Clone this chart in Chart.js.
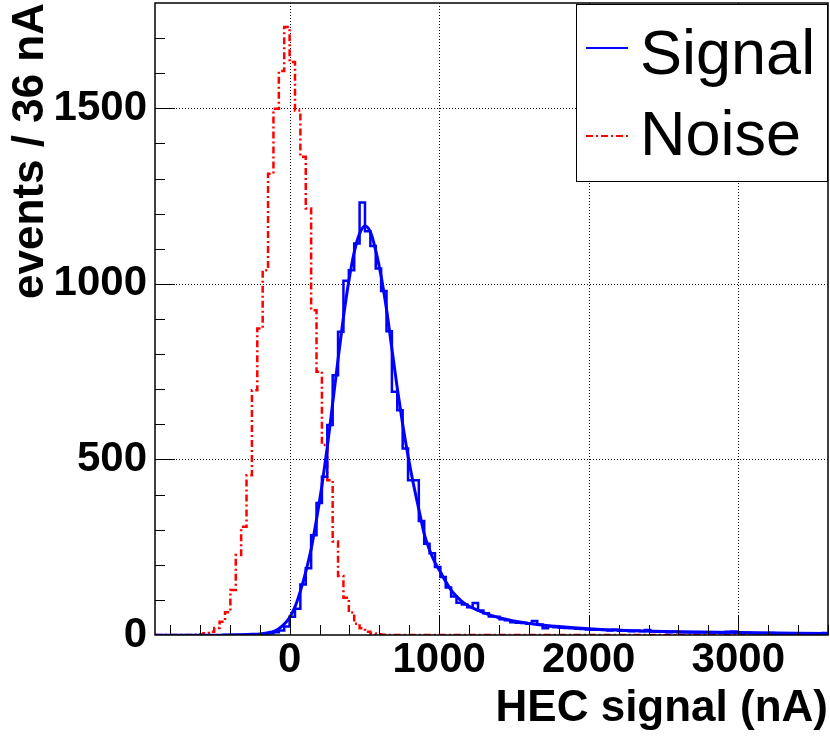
<!DOCTYPE html>
<html>
<head>
<meta charset="utf-8">
<title>HEC signal</title>
<script src="https://cdn.jsdelivr.net/npm/chart.js@4.4.1/dist/chart.umd.min.js"></script>
<style>
  html, body { margin: 0; padding: 0; background: #fff; }
  #wrap { width: 830px; height: 740px; }
</style>
</head>
<body>
<div id="wrap"><canvas id="hec" width="830" height="740"></canvas></div>
<script>
// both histograms use 36 nA bins starting at -900 nA (125 bins up to 3600)
const binStart = -900;
const binWidth = 36;

const signalCounts = [
  0, 0, 0, 0, 0, 0, 0, 0, 0, 0,
  0, 0, 0, 0, 0, 0, 0, 1, 1, 2,
  3, 5, 8, 13, 24, 52, 75, 144, 190, 284,
  376, 451, 598, 740, 864, 1009, 1039, 1115, 1232, 1150,
  1108, 1044, 980, 865, 693, 640, 531, 441, 441, 325,
  260, 233, 194, 165, 135, 110, 92, 87, 79, 91,
  70, 62, 53, 52, 45, 42, 36, 35, 34, 32,
  40, 30, 19, 24, 22, 21, 20, 19, 18, 17,
  16, 15, 15, 14, 13, 15, 12, 12, 11, 12,
  11, 14, 10, 9, 9, 8, 9, 8, 8, 7,
  7, 7, 8, 7, 7, 6, 9, 10, 8, 6,
  6, 5, 5, 5, 6, 4, 4, 5, 4, 4,
  5, 4, 4, 5, 6
];

const noiseCounts = [
  0, 0, 0, 0, 0, 0, 0, 1, 2, 5,
  9, 20, 38, 65, 128, 228, 308, 455, 697, 873,
  1039, 1314, 1499, 1606, 1732, 1632, 1494, 1362, 1215, 925,
  750, 541, 441, 266, 168, 106, 64, 32, 19, 9,
  4, 2, 1, 0, 0, 0, 0, 0, 0, 0,
  0, 0, 0, 0, 0, 0, 0, 0, 0, 0,
  0, 0, 0, 0, 0, 0, 0, 0, 0, 0,
  0, 0, 0, 0, 0, 0, 0, 0, 0, 0,
  0, 0, 0, 0, 0, 0, 0, 0, 0, 0,
  0, 0, 0, 0, 0, 0, 0, 0, 0, 0,
  0, 0, 0, 0, 0, 0, 0, 0, 0, 0,
  0, 0, 0, 0, 0, 0, 0, 0, 0, 0,
  0, 0, 0, 0, 0
];

// fitted curve on the signal
const fitX = [
  -450, -350, -250, -200, -150, -100, -50,
  0, 36, 72, 108, 144, 180, 216, 252, 288, 324,
  360, 396, 432, 468, 504, 540, 576, 612, 648, 684,
  720, 756, 792, 828, 864, 900, 936, 972, 1008, 1044,
  1080, 1116, 1152, 1188, 1224, 1260, 1300,
  1400, 1500, 1600, 1700, 1800, 2000, 2250, 2500, 3000, 3600
];
const fitY = [
  0, 0.5, 2, 3, 6, 11, 25,
  50, 80, 125, 180, 245, 330, 425, 535, 660, 785,
  905, 1008, 1090, 1143, 1165, 1148, 1095, 1022, 928, 815,
  703, 600, 510, 430, 358, 288, 242, 206, 180, 152,
  128, 110, 96, 85, 77, 70, 63,
  49, 40, 33, 28, 24, 18, 13, 10, 7, 4
];

const xMajorTicks = [0, 1000, 2000, 3000];
const yMajorTicks = [0, 500, 1000, 1500];
const xMinorStep = 200;
const yMinorStep = 100;

const tickFont = { family: "'Liberation Sans', Arial, sans-serif", size: 42, weight: "bold" };
const titleFont = { family: "'Liberation Sans', Arial, sans-serif", size: 44, weight: "bold" };

// one point per bin low edge plus the closing edge; drawn with stepped "before"
// so each count is held across its own bin
const toSteps = (counts) => {
  const pts = counts.map((c, i) => ({ x: binStart + i * binWidth, y: c }));
  pts.push({ x: binStart + counts.length * binWidth, y: counts[counts.length - 1] });
  return pts;
};

// ROOT-like frame: dotted grid, inward ticks, box and legend
const rootFrame = {
  id: "rootFrame",
  beforeDatasetsDraw(chart) {
    const { ctx, chartArea: a, scales: { x, y } } = chart;
    ctx.save();
    ctx.strokeStyle = "#000";
    ctx.lineWidth = 1;
    ctx.setLineDash([1, 2]);
    ctx.beginPath();
    xMajorTicks.forEach((v) => {
      const px = Math.round(x.getPixelForValue(v)) + 0.5;
      ctx.moveTo(px, a.top);
      ctx.lineTo(px, a.bottom);
    });
    yMajorTicks.forEach((v) => {
      if (v === 0) return;
      const py = Math.round(y.getPixelForValue(v)) + 0.5;
      ctx.moveTo(a.left, py);
      ctx.lineTo(a.right, py);
    });
    ctx.stroke();
    ctx.restore();
  },
  afterDatasetsDraw(chart) {
    const { ctx, chartArea: a, scales: { x, y } } = chart;
    ctx.save();
    ctx.strokeStyle = "#000";
    ctx.lineWidth = 1;
    ctx.beginPath();
    for (let v = Math.ceil(x.min / xMinorStep) * xMinorStep; v <= x.max; v += xMinorStep) {
      const px = Math.round(x.getPixelForValue(v)) + 0.5;
      const len = xMajorTicks.includes(v) ? 20 : 10;
      ctx.moveTo(px, a.bottom);
      ctx.lineTo(px, a.bottom - len);
    }
    for (let v = yMinorStep; v < y.max; v += yMinorStep) {
      const py = Math.round(y.getPixelForValue(v)) + 0.5;
      const len = yMajorTicks.includes(v) ? 20 : 10;
      ctx.moveTo(a.left, py);
      ctx.lineTo(a.left + len, py);
    }
    ctx.stroke();
    ctx.lineWidth = 1.5;
    ctx.strokeRect(a.left, a.top, a.right - a.left, a.bottom - a.top);
    ctx.restore();
  },
  afterDraw(chart) {
    const { ctx, chartArea: a } = chart;
    const sets = chart.data.datasets;
    const box = { left: 576, top: a.top + 1, right: a.right, bottom: 182 };
    ctx.save();
    ctx.fillStyle = "#fff";
    ctx.fillRect(box.left, box.top, box.right - box.left, box.bottom - box.top);
    ctx.strokeStyle = "#000";
    ctx.lineWidth = 1;
    ctx.strokeRect(box.left + 0.5, box.top + 0.5, box.right - box.left - 1, box.bottom - box.top - 1);

    const entries = [
      { ds: sets[0], y: 48, base: 74 },
      { ds: sets[2], y: 136, base: 155 },
    ];
    ctx.font = "63px 'Liberation Sans', Arial, sans-serif";
    ctx.textBaseline = "alphabetic";
    ctx.textAlign = "left";
    entries.forEach((e) => {
      ctx.strokeStyle = e.ds.borderColor;
      ctx.lineWidth = 2;
      ctx.setLineDash(e.ds.borderDash || []);
      ctx.beginPath();
      ctx.moveTo(586, e.y);
      ctx.lineTo(628, e.y);
      ctx.stroke();
      ctx.setLineDash([]);
      ctx.fillStyle = "#000";
      ctx.fillText(e.ds.label, 640, e.base);
    });
    ctx.restore();
  },
};

const ctx = document.getElementById("hec").getContext("2d");
new Chart(ctx, {
  type: "line",
  data: {
    datasets: [
      {
        label: "Signal",
        data: toSteps(signalCounts),
        stepped: "before",
        borderColor: "#0000ff",
        borderWidth: 2.5,
        pointRadius: 0,
        fill: false,
      },
      {
        label: "Signal fit",
        data: fitX.map((v, i) => ({ x: v, y: fitY[i] })),
        borderColor: "#0000ff",
        borderWidth: 3,
        pointRadius: 0,
        cubicInterpolationMode: "monotone",
        fill: false,
      },
      {
        label: "Noise",
        data: toSteps(noiseCounts),
        stepped: "before",
        borderColor: "#ff0000",
        borderWidth: 2.5,
        borderDash: [7, 3, 2, 3],
        pointRadius: 0,
        fill: false,
      },
    ],
  },
  options: {
    responsive: false,
    animation: false,
    devicePixelRatio: 1,
    layout: { padding: { top: 3, right: 2, left: 0, bottom: 0 } },
    plugins: { legend: { display: false }, tooltip: { enabled: false } },
    scales: {
      x: {
        type: "linear",
        min: -900,
        max: 3600,
        grid: { display: false, drawTicks: false },
        border: { display: false },
        afterBuildTicks: (s) => { s.ticks = xMajorTicks.map((v) => ({ value: v })); },
        afterFit: (s) => { s.height = 105; s.paddingLeft = 0; s.paddingRight = 0; },
        ticks: { font: tickFont, color: "#000", padding: 0, maxRotation: 0, autoSkip: false, callback: (v) => String(v) },
        title: { display: true, text: "HEC signal (nA)", align: "end", font: titleFont, color: "#000", padding: { top: 0, bottom: 5 } },
      },
      y: {
        min: 0,
        max: 1800,
        grid: { display: false, drawTicks: false },
        border: { display: false },
        afterBuildTicks: (s) => { s.ticks = yMajorTicks.map((v) => ({ value: v })); },
        afterFit: (s) => { s.width = 155; s.paddingTop = 0; s.paddingBottom = 0; },
        ticks: { font: tickFont, color: "#000", padding: 8, callback: (v) => String(v) },
        title: { display: true, text: "events / 36 nA", align: "end", font: titleFont, color: "#000", padding: { top: 4, bottom: 0 } },
      },
    },
  },
  plugins: [rootFrame],
});
</script>
</body>
</html>
